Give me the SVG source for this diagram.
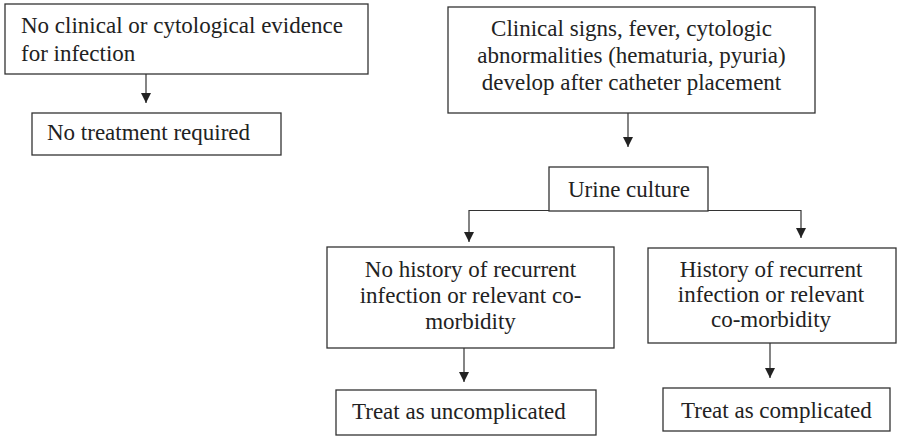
<svg xmlns="http://www.w3.org/2000/svg" width="897" height="437" viewBox="0 0 897 437">
<style>
.box{fill:#fff;stroke:#333;stroke-width:1.3}
.t{font-family:"Liberation Serif","Times New Roman",serif;font-size:23px;fill:#222}
.c{text-anchor:middle}
.conn{fill:none;stroke:#333;stroke-width:1.2}
</style>
<defs>
<marker id="ah" markerUnits="userSpaceOnUse" markerWidth="11" markerHeight="10" refX="10" refY="5" orient="auto" viewBox="0 0 10 10">
<path d="M0,0 L10,5 L0,10 z" fill="#222"/>
</marker>
</defs>
<rect width="897" height="437" fill="#fff"/>
<g id="connectors">
<path class="conn" d="M146,74 V103" marker-end="url(#ah)"/>
<path class="conn" d="M628,113 V147" marker-end="url(#ah)"/>
<path class="conn" d="M628,210.5 H469 V242" marker-end="url(#ah)"/>
<path class="conn" d="M628,210.5 H801 V238" marker-end="url(#ah)"/>
<path class="conn" d="M464,348 V382" marker-end="url(#ah)"/>
<path class="conn" d="M770,343 V378" marker-end="url(#ah)"/>
</g>
<g id="no-evidence">
<rect class="box" x="5" y="4" width="363" height="70"/>
<text class="t" x="21" y="33">No clinical or cytological evidence</text>
<text class="t" x="21" y="61">for infection</text>
</g>
<g id="no-treatment">
<rect class="box" x="32" y="113" width="249" height="42"/>
<text class="t" x="47" y="140">No treatment required</text>
</g>
<g id="clinical-signs">
<rect class="box" x="448" y="7" width="367" height="106"/>
<text class="t c" x="631.5" y="35.5">Clinical signs, fever, cytologic</text>
<text class="t c" x="631.5" y="63">abnormalities (hematuria, pyuria)</text>
<text class="t c" x="631.5" y="90">develop after catheter placement</text>
</g>
<g id="urine-culture">
<rect class="box" x="549" y="167" width="159" height="44"/>
<text class="t c" x="629" y="197">Urine culture</text>
</g>
<g id="no-history">
<rect class="box" x="327" y="247" width="287" height="101"/>
<text class="t c" x="470.5" y="277">No history of recurrent</text>
<text class="t c" x="470.5" y="303">infection or relevant co-</text>
<text class="t c" x="470.5" y="329">morbidity</text>
</g>
<g id="history">
<rect class="box" x="648" y="248" width="248" height="95"/>
<text class="t c" x="771" y="277">History of recurrent</text>
<text class="t c" x="771" y="302">infection or relevant</text>
<text class="t c" x="771" y="327">co-morbidity</text>
</g>
<g id="treat-uncomplicated">
<rect class="box" x="336" y="390" width="260" height="45"/>
<text class="t" x="352" y="419">Treat as uncomplicated</text>
</g>
<g id="treat-complicated">
<rect class="box" x="663" y="388" width="227" height="43"/>
<text class="t" x="681" y="418">Treat as complicated</text>
</g>
</svg>
